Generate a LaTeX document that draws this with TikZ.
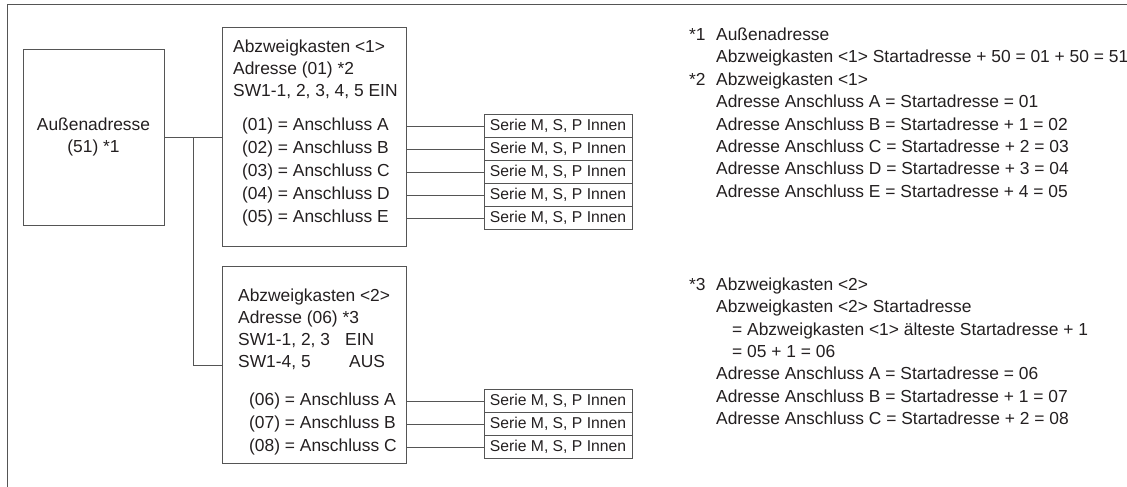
\documentclass[tikz,border=0pt]{standalone}
\usepackage{fontspec}
\setmainfont{Liberation Sans}
\usepackage{tikz}
\usepackage{xcolor}
\usetikzlibrary{positioning, calc}
\definecolor{cLine}{HTML}{555555}
\definecolor{cText}{HTML}{231F20}

\begin{document}
\begin{tikzpicture}[x=1pt, y=-1pt,
    box/.style={draw=cLine, line width=0.9pt, inner sep=0pt, text=cText},
    txt/.style={anchor=west, inner sep=0pt, text=cText, text height=12.5pt, text depth=3.5pt,
                font=\fontsize{17.4}{22}\selectfont},
    serie/.style={box, minimum width=148pt, minimum height=23pt,
                  font=\fontsize{15.7}{18}\selectfont},
    wire/.style={draw=cLine, line width=0.9pt}]
  \useasboundingbox (0,0) rectangle (1127,487);
  \draw[wire] (7,487) -- (7,4) -- (1127,4);

  \node[box, minimum width=141pt, minimum height=176pt, align=center,
        font=\fontsize{17.4}{22}\selectfont] (aussen) at (93.5,137) {Außenadresse\\(51) *1};
  \node[box, minimum width=184pt, minimum height=219pt] (kasten1) at (314,137) {};
  \node[box, minimum width=184pt, minimum height=197pt] (kasten2) at (314,365) {};
  \coordinate (abzw) at ($(aussen.east)!0.5!(kasten1.west)$);
  \draw[wire] (aussen.east) -- (kasten1.west);
  \draw[wire] (abzw) |- (kasten2.west);

  \foreach \t [count=\i from 0] in {Abzweigkasten <1>, Adresse (01) *2, {SW1-1, 2, 3, 4, 5 EIN}}
    \node[txt] (k1h\i) at (233, 48+22*\i) {\t};
  \foreach \p [count=\i from 0] in {A,B,C,D,E}{
    \pgfmathtruncatemacro{\num}{\i+1}
    \node[txt] (k1p\i) at (242, 126+23*\i) {(0\num) = Anschluss \p};
    \node[serie] (s1\i) at (558, 126+23*\i) {Serie M, S, P Innen};
    \draw[wire] (kasten1.east |- k1p\i) -- (s1\i.west);
  }

  \foreach \t [count=\i from 0] in {Abzweigkasten <2>, Adresse (06) *3,
      {\makebox[107pt][l]{SW1-1, 2, 3}EIN}, {\makebox[111pt][l]{SW1-4, 5}AUS}}
    \node[txt] (k2h\i) at (238, 297+22*\i) {\t};
  \foreach \p [count=\i from 0] in {A,B,C}{
    \pgfmathtruncatemacro{\num}{\i+6}
    \node[txt] (k2p\i) at (249, 401+23*\i) {(0\num) = Anschluss \p};
    \node[serie] (s2\i) at (558, 401+23*\i) {Serie M, S, P Innen};
    \draw[wire] (kasten2.east |- k2p\i) -- (s2\i.west);
  }

  \node[txt] (stern1) at (689, 36) {*1};
  \node[txt] (stern2) at (689, 80.8) {*2};
  \foreach \t [count=\i from 0] in {Außenadresse,
      Abzweigkasten <1> Startadresse + 50 = 01 + 50 = 51,
      Abzweigkasten <1>,
      Adresse Anschluss A = Startadresse = 01,
      Adresse Anschluss B = Startadresse + 1 = 02,
      Adresse Anschluss C = Startadresse + 2 = 03,
      Adresse Anschluss D = Startadresse + 3 = 04,
      Adresse Anschluss E = Startadresse + 4 = 05}
    \node[txt] (n1\i) at (716, 36+22.4*\i) {\t};

  \node[txt] (stern3) at (689, 286) {*3};
  \foreach \t [count=\i from 0] in {Abzweigkasten <2>,
      Abzweigkasten <2> Startadresse,
      \hspace{16pt}= Abzweigkasten <1> älteste Startadresse + 1,
      \hspace{16pt}= 05 + 1 = 06,
      Adresse Anschluss A = Startadresse = 06,
      Adresse Anschluss B = Startadresse + 1 = 07,
      Adresse Anschluss C = Startadresse + 2 = 08}
    \node[txt] (n3\i) at (716, 286+22.3*\i) {\t};
\end{tikzpicture}
\end{document}
